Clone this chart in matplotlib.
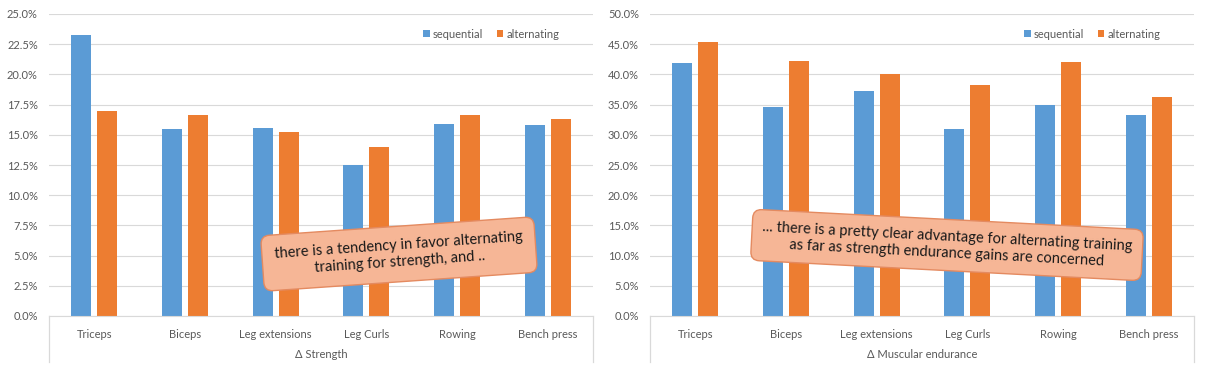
import numpy as np
import matplotlib.pyplot as plt
from matplotlib.ticker import FuncFormatter

plt.rcParams['font.family'] = ['Lato', 'DejaVu Sans']

# data
categories = ['Triceps', 'Biceps', 'Leg extensions', 'Leg Curls', 'Rowing', 'Bench press']
strength_seq = [23.3, 15.5, 15.6, 12.5, 15.9, 15.8]
strength_alt = [17.0, 16.6, 15.2, 14.0, 16.6, 16.3]
endurance_seq = [41.9, 34.6, 37.3, 31.0, 34.9, 33.3]
endurance_alt = [45.4, 42.2, 40.1, 38.2, 42.1, 36.3]
series_names = ['sequential', 'alternating']
group_labels = ['\u0394 Strength', '\u0394 Muscular endurance']
notes = ['there is a tendency in favor alternating\ntraining for strength, and ..',
         '... there is a pretty clear advantage for alternating training\nas far as strength endurance gains are concerned']

BLUE = '#5B9BD5'
ORANGE = '#ED7D31'
GREY = '#595959'
LINE = '#D9D9D9'

fig = plt.figure(figsize=(12.08, 3.70), dpi=100)
W, H = 1208, 370

def draw_panel(left, seq, alt, ymax, step, group, note, note_xy, note_rot, note_pad):
    ax = fig.add_axes([left / W, (H - 316) / H, 544 / W, 302 / H])
    x = np.arange(len(categories))
    bw = 0.22
    ax.bar(x - 0.143, seq, bw, color=BLUE, label=series_names[0], zorder=2)
    ax.bar(x + 0.143, alt, bw, color=ORANGE, label=series_names[1], zorder=2)
    ax.set_xlim(-0.5, len(categories) - 0.5)
    ax.set_ylim(0, ymax)
    ax.set_yticks(np.arange(0, ymax + 0.01, step))
    ax.yaxis.set_major_formatter(FuncFormatter(lambda v, p: f'{v:.1f}%'))
    ax.grid(axis='y', color=LINE, linewidth=0.8, zorder=0)
    for s in ['top', 'right', 'left']:
        ax.spines[s].set_visible(False)
    ax.spines['bottom'].set_color(LINE)
    ax.set_xticks(x)
    ax.set_xticklabels(categories)
    ax.tick_params(axis='both', length=0, labelsize=8, labelcolor=GREY)
    ax.tick_params(axis='x', pad=9)
    ax.tick_params(axis='y', pad=8)
    # multi-level category frame lines
    for xx in (0, 1):
        ax.plot([xx, xx], [0, -46 / 302], transform=ax.transAxes, color=LINE,
                linewidth=0.9, clip_on=False)
    ax.text(0.5, -38 / 302, group, transform=ax.transAxes, ha='center', va='center',
            fontsize=8, color=GREY)
    ax.legend(loc='upper left', bbox_to_anchor=(364 / 544, 0.985), ncol=2, frameon=False,
              fontsize=8, labelcolor=GREY, handlelength=0.6, handleheight=0.6,
              handletextpad=0.3, columnspacing=1.2)
    fig.text(note_xy[0] / W, 1 - note_xy[1] / H, note, ha='center', va='center',
             rotation=note_rot, fontsize=10.5, color='#1a1a1a', linespacing=1.25,
             bbox=dict(boxstyle=f'round,pad={note_pad},rounding_size=0.6', facecolor='#F6B696',
                       edgecolor='#E48A60', linewidth=1.0), zorder=5)

draw_panel(49, strength_seq, strength_alt, 25, 2.5, group_labels[0], notes[0], (399, 254), 4, 0.85)
draw_panel(650, endurance_seq, endurance_alt, 50, 5, group_labels[1], notes[1], (947, 245), -3, 0.7)

fig.savefig('out.png', dpi=100)
